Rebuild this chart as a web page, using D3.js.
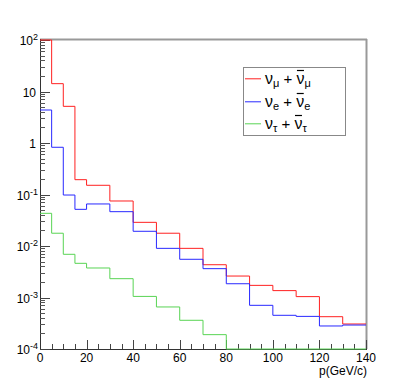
<!DOCTYPE html>
<html><head><meta charset="utf-8">
<script src="https://cdn.jsdelivr.net/npm/d3@7"></script>
<style>body{margin:0;background:#fff}svg{display:block}text{font-family:"Liberation Sans",Arial,sans-serif}</style>
</head><body><svg id="c" width="407" height="388"></svg>
<script>
const binEdges = [0,5,10,15,20,30,40,50,60,70,80,90,100,110,120,130,140];
const numu = [100,14.2,5.15,0.194,0.151,0.0748,0.0288,0.0177,0.0090,0.00433,0.00261,0.00172,0.00136,0.00104,0.000424,0.000306];
const nue  = [4.37,0.826,0.0977,0.0515,0.0655,0.0464,0.0193,0.0090,0.00552,0.00363,0.00185,0.000705,0.000451,0.000430,0.00028,0.000292];
const nutau= [0.0431,0.0177,0.0069,0.00461,0.00374,0.00232,0.00105,0.000655,0.000361,0.00019,0,0,0,0,0,0];
const xTicks = [0,20,40,60,80,100,120,140];
const yDecades = [-4,-3,-2,-1,0,1,2];
const yTickLabels = ["10","10","10","10","1","10","10"];
const yTickExps = ["-4","-3","-2","-1","","","2"];
const seriesNames = [["ν","μ"],["ν","e"],["ν","τ"]];
const seriesColors = ["#ff2020","#2828ff","#59d454"];
const xTitle = "p(GeV/c)";

const svg = d3.select("#c");
const L=40,R=366,T=40,B=349;
const x = d3.scaleLinear().domain([0,140]).range([L,R]);
const y = d3.scaleLog().domain([1e-4,100]).range([B,T]).clamp(true);

// frame top/right
svg.append("line").attr("x1",L).attr("x2",R+1).attr("y1",T-0.5).attr("y2",T-0.5).attr("stroke","#999").attr("stroke-width",2);
svg.append("line").attr("x1",R+0.5).attr("x2",R+0.5).attr("y1",T-1).attr("y2",B).attr("stroke","#999").attr("stroke-width",2);

// x axis
const xa = svg.append("g");
xa.append("line").attr("x1",L).attr("x2",R+1).attr("y1",B+0.5).attr("y2",B+0.5).attr("stroke","#333");
d3.range(0,141,5).forEach(v=>{
  const major = v%20===0;
  const xx = Math.round(x(v))+0.5;
  xa.append("line").attr("x1",xx).attr("x2",xx).attr("y1",B).attr("y2",B-(major?9:5)).attr("stroke","#444");
});
xTicks.forEach(v=>{
  xa.append("text").attr("x",x(v)).attr("y",362).attr("text-anchor","middle").attr("font-size",12).attr("fill","#000").text(v);
});
xa.append("text").attr("x",R+1).attr("y",375).attr("text-anchor","end").attr("font-size",12).text(xTitle);

// y axis
const ya = svg.append("g");
ya.append("line").attr("x1",L+0.5).attr("x2",L+0.5).attr("y1",T-1).attr("y2",B+1).attr("stroke","#333");
yDecades.forEach((d,i)=>{
  const yy = Math.round(y(Math.pow(10,d)))+0.5;
  ya.append("line").attr("x1",L).attr("x2",L+10).attr("y1",yy).attr("y2",yy).attr("stroke","#444");
  if(d<2){
    for(let m=2;m<=9;m++){
      const ym = Math.round(y(m*Math.pow(10,d)))+0.5;
      ya.append("line").attr("x1",L).attr("x2",L+5).attr("y1",ym).attr("y2",ym).attr("stroke","#555");
    }
  }
  const t = ya.append("text").attr("y",yy+4.5).attr("font-size",12).attr("fill","#000");
  const ex = yTickExps[i];
  if(ex===""){
    t.attr("x",L-4).attr("text-anchor","end").text(yTickLabels[i]);
  } else {
    t.attr("x",L-2).attr("text-anchor","end");
    t.append("tspan").text(yTickLabels[i]);
    t.append("tspan").attr("dy",-5).attr("font-size",9).text(ex);
  }
});

// histograms (drawn over axes, zero bins sit on the bottom axis)
[numu,nue,nutau].forEach((vals,k)=>{
  const pts = vals.map((v,i)=>[binEdges[i], v]);
  pts.push([binEdges[binEdges.length-1], vals[vals.length-1]]);
  const line = d3.line().x(d=>x(d[0])).y(d=>y(Math.max(d[1],1e-4))).curve(d3.curveStepAfter);
  svg.append("path").attr("d",line(pts)).attr("fill","none").attr("stroke",seriesColors[k]).attr("stroke-width",1);
});

// legend
const lg = svg.append("g");
lg.append("rect").attr("x",243.5).attr("y",67.5).attr("width",102).attr("height",68).attr("fill","#fff").attr("stroke","#888");
const rowY = [84,107,129];
seriesNames.forEach((nm,k)=>{
  const by = rowY[k];
  lg.append("line").attr("x1",245).attr("x2",261).attr("y1",by-5.2).attr("y2",by-5.2).attr("stroke",seriesColors[k]).attr("stroke-width",1);
  const t = lg.append("text").attr("x",265).attr("y",by).attr("font-size",16).attr("fill","#000").attr("font-family","DejaVu Sans");
  t.append("tspan").text(nm[0]);
  t.append("tspan").attr("dy",3).attr("font-size",11).text(nm[1]);
  t.append("tspan").attr("dy",-3).attr("font-size",15).text(" + ");
  t.append("tspan").text(nm[0]);
  t.append("tspan").attr("dy",3).attr("font-size",11).text(nm[1]);
  const node = t.node();
  const idx = 5;
  const s = node.getStartPositionOfChar(idx), e = node.getEndPositionOfChar(idx);
  lg.append("line").attr("x1",s.x+0.5).attr("x2",e.x-0.5).attr("y1",by-13.5).attr("y2",by-13.5).attr("stroke","#000").attr("stroke-width",1.2);
});
</script></body></html>
